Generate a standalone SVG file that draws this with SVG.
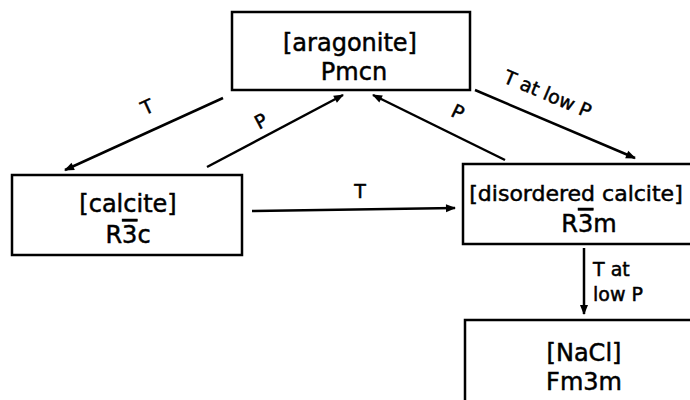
<svg xmlns="http://www.w3.org/2000/svg" width="690" height="400" viewBox="0 0 690 400">
<style>
.box{fill:#fff;stroke:#000;stroke-width:2.5}
.t{font-family:"DejaVu Sans","Liberation Sans",sans-serif;fill:#000;stroke:#000;stroke-width:0.5;text-anchor:middle}
.big{font-size:24px}
.sm{font-size:19px}
.c{fill:none;stroke:#000;stroke-width:2.5;marker-end:url(#ah)}
.ob{text-decoration:overline}
</style>
<defs>
<marker id="ah" viewBox="0 0 10 10" refX="9" refY="5" markerWidth="5" markerHeight="4" orient="auto" markerUnits="strokeWidth">
<path d="M0,1 L10,5 L0,9 Z" fill="#000"/>
</marker>
</defs>
<rect width="690" height="400" fill="#fff"/>
<g id="aragonite">
<rect class="box" x="232" y="12" width="238" height="78"/>
<text class="t big" x="350" y="51">[aragonite]</text>
<text class="t big" x="354" y="80">Pmcn</text>
</g>
<g id="calcite">
<rect class="box" x="12" y="175" width="230" height="80"/>
<text class="t big" x="128" y="212">[calcite]</text>
<text class="t big" x="128" y="243">R<tspan class="ob">3</tspan>c</text>
</g>
<g id="disordered">
<rect class="box" x="463" y="164" width="240" height="80"/>
<text class="t big" x="576" y="201" style="font-size:22px">[disordered calcite]</text>
<text class="t big" x="589" y="232">R<tspan class="ob">3</tspan>m</text>
</g>
<g id="nacl">
<rect class="box" x="465" y="320" width="240" height="90"/>
<text class="t big" x="584" y="361">[NaCl]</text>
<text class="t big" x="584" y="390">Fm3m</text>
</g>
<g id="connectors">
<line class="c" x1="223" y1="98" x2="65" y2="170"/>
<line class="c" x1="207" y1="167" x2="343" y2="95"/>
<line class="c" x1="505" y1="160" x2="373" y2="95"/>
<line class="c" x1="475" y1="90" x2="635" y2="158"/>
<line class="c" x1="252" y1="211" x2="455" y2="208"/>
<line class="c" x1="584" y1="248" x2="584" y2="314"/>
<text class="t sm" transform="translate(150,113) rotate(-24.5)">T</text>
<text class="t sm" transform="translate(264,127) rotate(-28)">P</text>
<text class="t sm" transform="translate(455,118) rotate(26)">P</text>
<text class="t sm" transform="translate(545,100) rotate(23)">T at low P</text>
<text class="t sm" x="360" y="198">T</text>
<text class="t sm" x="593" y="276" style="text-anchor:start">T at</text>
<text class="t sm" x="593" y="301" style="text-anchor:start">low P</text>
</g>
</svg>
